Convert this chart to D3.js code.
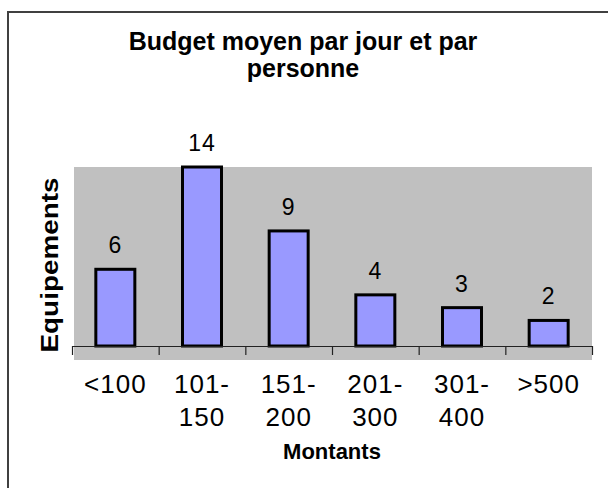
<!DOCTYPE html>
<html>
<head>
<meta charset="utf-8">
<script src="https://d3js.org/d3.v7.min.js"></script>
<style>
  body { margin: 0; background: #fff; }
  text { font-family: Arial, "Liberation Sans", sans-serif; }
</style>
</head>
<body>
<script>
// data
const categories = ["<100", "101-150", "151-200", "201-300", "301-400", ">500"];
const tickLines = [["<100"], ["101-", "150"], ["151-", "200"], ["201-", "300"], ["301-", "400"], [">500"]];
const counts = [6, 14, 9, 4, 3, 2];
const titleLines = ["Budget moyen par jour et par", "personne"];
const xTitle = "Montants";
const yTitle = "Equipements";

const W = 608, H = 488;
const plot = {left: 74, right: 592, top: 167, bottom: 360};
const axisY = 346, axisLeft = 72;

const svg = d3.select("body").append("svg")
    .attr("width", W)
    .attr("height", H);

svg.append("rect").attr("width", W).attr("height", H).attr("fill", "#fff");

// outer chart border (right/bottom fall outside the picture)
svg.append("rect")
    .attr("x", 8).attr("y", 12)
    .attr("width", 640).attr("height", 520)
    .attr("fill", "none")
    .attr("stroke", "#404040")
    .attr("stroke-width", 2);

// title
svg.append("text")
    .attr("x", 303)
    .attr("text-anchor", "middle")
    .style("font-size", "25px")
    .style("font-weight", "bold")
    .selectAll("tspan")
    .data(titleLines)
    .enter().append("tspan")
    .attr("x", 303)
    .attr("y", (d, i) => 50 + i * 27)
    .text(d => d);

// plot area
svg.append("rect")
    .attr("x", plot.left).attr("y", plot.top)
    .attr("width", plot.right - plot.left)
    .attr("height", plot.bottom - plot.top)
    .attr("fill", "#C0C0C0");

const xScale = d3.scaleBand()
    .domain(categories)
    .range([axisLeft, plot.right])
    .paddingInner(0.55)
    .paddingOuter(0.275);

const yScale = d3.scaleLinear()
    .domain([0, 14])
    .range([axisY, plot.top]);

// bars
svg.selectAll(".bar")
    .data(counts)
    .enter().append("rect")
    .attr("class", "bar")
    .attr("x", (d, i) => xScale(categories[i]))
    .attr("y", d => yScale(d))
    .attr("width", xScale.bandwidth())
    .attr("height", d => axisY - yScale(d))
    .attr("fill", "#9999FF")
    .attr("stroke", "#000")
    .attr("stroke-width", 3);

// value labels
svg.selectAll(".val")
    .data(counts)
    .enter().append("text")
    .attr("class", "val")
    .attr("x", (d, i) => xScale(categories[i]) + xScale.bandwidth() / 2)
    .attr("y", d => yScale(d) - 16)
    .attr("text-anchor", "middle")
    .style("font-size", "23px")
    .style("letter-spacing", "1px")
    .text(d => d);

// category axis, ticks between the groups
const edge = d3.scaleLinear().domain([0, categories.length]).range([axisLeft, plot.right]);
const xAxis = d3.axisBottom(edge)
    .ticks(categories.length)
    .tickSizeInner(9)
    .tickSizeOuter(0)
    .tickFormat("");

const gx = svg.append("g")
    .attr("transform", "translate(0," + axisY + ")")
    .call(xAxis);
gx.select(".domain").attr("stroke", "#222").attr("stroke-width", 1.2);
gx.selectAll(".tick line").attr("stroke", "#222").attr("stroke-width", 1.2);

// category labels
const labels = svg.selectAll(".cat")
    .data(tickLines)
    .enter().append("text")
    .attr("class", "cat")
    .attr("text-anchor", "middle")
    .style("font-size", "26px")
    .style("letter-spacing", "1px");
labels.selectAll("tspan")
    .data((d, i) => d.map(t => ({t: t, i: i})))
    .enter().append("tspan")
    .attr("x", d => xScale(categories[d.i]) + xScale.bandwidth() / 2)
    .attr("y", (d, j) => 393 + j * 33)
    .text(d => d.t);

// axis titles
svg.append("text")
    .attr("x", 332)
    .attr("y", 459)
    .attr("text-anchor", "middle")
    .style("font-size", "22px")
    .style("font-weight", "bold")
    .text(xTitle);

svg.append("text")
    .attr("transform", "translate(58,265) rotate(-90)")
    .attr("text-anchor", "middle")
    .attr("textLength", 175)
    .attr("lengthAdjust", "spacingAndGlyphs")
    .style("font-size", "24px")
    .style("font-weight", "bold")
    .text(yTitle);
</script>
</body>
</html>
